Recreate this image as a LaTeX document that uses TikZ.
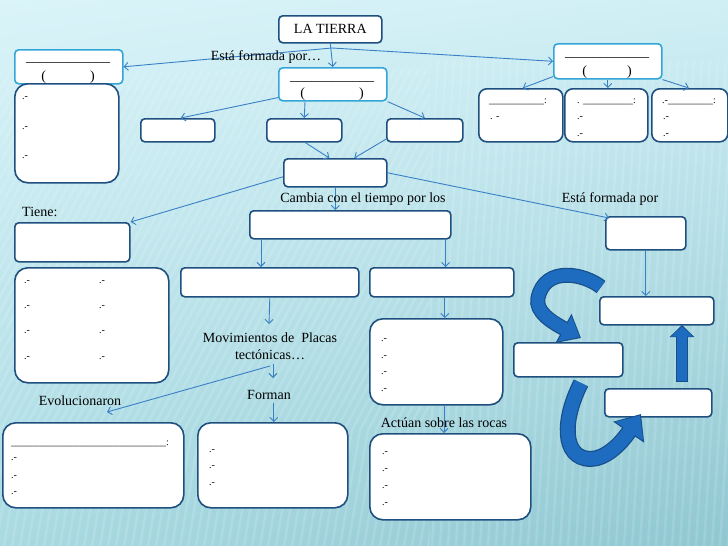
\documentclass[tikz,border=0pt]{standalone}
\usepackage{fontspec}
\setmainfont{Liberation Serif}
\usetikzlibrary{arrows.meta,calc,shadings}
\definecolor{dkb}{HTML}{1E4F7E}
\definecolor{ltb}{HTML}{33A6D8}
\definecolor{arc}{HTML}{3A80C6}
\definecolor{blkf}{HTML}{1D6CC0}
\definecolor{blkd}{HTML}{174F8A}
\definecolor{bgul}{HTML}{DAF4F9}
\definecolor{bgur}{HTML}{D0EFF5}
\definecolor{bgll}{HTML}{A9DAE2}
\definecolor{bglr}{HTML}{8FC7D1}
\begin{document}
\begin{tikzpicture}[x=1pt,y=-1pt,
  box/.style={draw=dkb, line width=1.6pt, fill=white, rounded corners=4pt, anchor=north west, inner sep=0pt},
  lbox/.style={box, draw=ltb},
  bigbox/.style={box, rounded corners=13pt},
  midbox/.style={box, rounded corners=8pt},
  arr/.style={draw=arc, line width=0.9pt, -{Straight Barb[length=4pt,width=8pt]}},
  lbl/.style={font=\fontsize{14}{17}\selectfont, inner sep=0pt},
  itm/.style={font=\fontsize{10}{11}\selectfont, inner sep=0pt, anchor=west},
  blkarrow/.style={draw=blkf, line cap=butt},
  stripe/.style={draw=white, opacity=0.13, line width=2.5pt}
]
\useasboundingbox (0,0) rectangle (728,546);
\shade[upper left=bgul, upper right=bgur, lower left=bgll, lower right=bglr] (0,0) rectangle (728,546);
% background texture
\begin{scope}
\clip (0,70) rectangle (430,430);
\foreach \x in {-240,-232,...,440} \draw[stripe] (\x,430) -- ++(200,-370);
\end{scope}
\begin{scope}
\clip (430,60) rectangle (728,546);
\foreach \x in {400,408,...,740} \draw[stripe] (\x,546) -- ++(30,-486);
\end{scope}
\begin{scope}
\clip (0,430) rectangle (430,546);
\foreach \x in {-20,-12,...,440} \draw[stripe] (\x,546) -- ++(20,-116);
\end{scope}

% top level
\node[box, minimum width=103pt, minimum height=27pt, font=\fontsize{14}{16}\selectfont] (tierra) at (278,15) {LA TIERRA};
\node[lbox, minimum width=108pt, minimum height=34pt] (lt) at (14,49) {};
\node[lbl, anchor=base] (ltu) at (68,61) {\_\_\_\_\_\_\_\_\_\_\_\_};
\node[lbl, anchor=base] (ltp) at (68,80) {(\hspace{44pt})};
\node[bigbox, minimum width=104pt, minimum height=99pt] (ll) at (14,83) {};
\foreach \yy [count=\i] in {98,128,157} \node[itm] (lla\i) at (22,\yy) {.-};

\node[lbox, minimum width=108pt, minimum height=33pt] (mb) at (278,67) {};
\node[lbl, anchor=base] (mbu) at (332,80) {\_\_\_\_\_\_\_\_\_\_\_\_};
\node[lbl, anchor=base] (mbp) at (332,97) {(\hspace{54pt})};

\node[lbox, minimum width=108pt, minimum height=35pt] (rt) at (553,43) {};
\node[lbl, anchor=base] (rtu) at (607,56) {\_\_\_\_\_\_\_\_\_\_\_\_};
\node[lbl, anchor=base] (rtp) at (607,75) {(\hspace{40pt})};

\node[box, minimum width=74pt, minimum height=23pt] (A) at (140,118) {};
\node[box, minimum width=75pt, minimum height=23pt] (B) at (266,118) {};
\node[box, minimum width=76pt, minimum height=23pt] (Cb) at (386,118) {};
\node[box, minimum width=103pt, minimum height=28pt] (cen) at (283,158) {};

\node[midbox, minimum width=84pt, minimum height=53pt] (R1) at (478,88) {};
\node[midbox, minimum width=83pt, minimum height=53pt] (R2) at (564,88) {};
\node[midbox, minimum width=76pt, minimum height=53pt] (R3) at (651,88) {};
\node[itm] (r1a) at (489,102) {\_\_\_\_\_\_\_\_\_\_\_:};
\node[itm] (r1b) at (490,118) {. -};
\node[itm] (r2a) at (577,102) {. \_\_\_\_\_\_\_\_\_\_:};
\node[itm] (r2b) at (577,118) {.-};
\node[itm] (r2c) at (577,135) {.-};
\node[itm] (r3a) at (662,102) {.-\_\_\_\_\_\_\_\_\_:};
\node[itm] (r3b) at (663,118) {.-};
\node[itm] (r3c) at (663,135) {.-};

% middle level
\node[lbl, anchor=west] (tiene) at (22,212) {Tiene:};
\node[box, minimum width=115pt, minimum height=39pt] (T) at (14,222) {};
\node[bigbox, minimum width=154pt, minimum height=115pt] (LL2) at (14,267) {};
\foreach \yy [count=\i] in {282,307,332,358} {
  \node[itm] (lbl\i) at (24,\yy) {.-};
  \node[itm] (lbr\i) at (99,\yy) {.-};
}
\node[box, minimum width=201pt, minimum height=28pt] (W) at (249,210) {};
\node[box, minimum width=178pt, minimum height=29pt] (D) at (180,267) {};
\node[box, minimum width=144pt, minimum height=29pt] (E) at (369,267) {};
\node[bigbox, minimum width=133pt, minimum height=86pt] (F) at (369,318) {};
\foreach \yy [count=\i] in {340,357,373,390} \node[itm] (fa\i) at (381,\yy) {.-};

\node[box, minimum width=80pt, minimum height=33pt] (J) at (605,216) {};
\node[box, minimum width=114pt, minimum height=28pt] (K) at (599,296) {};
\node[box, minimum width=109pt, minimum height=34pt] (L) at (513,342) {};
\node[box, minimum width=107pt, minimum height=28pt] (M) at (604,388) {};

% bottom level
\node[bigbox, minimum width=181pt, minimum height=85pt] (G) at (2,422) {};
\node[itm] (ga0) at (11,444) {\_\_\_\_\_\_\_\_\_\_\_\_\_\_\_\_\_\_\_\_\_\_\_\_\_\_\_\_\_\_\_:};
\foreach \yy [count=\i] in {459,477,493} \node[itm] (ga\i) at (11,\yy) {.-};
\node[bigbox, minimum width=150pt, minimum height=85pt] (H) at (197,422) {};
\foreach \yy [count=\i] in {451,467,484} \node[itm] (ha\i) at (209,\yy) {.-};
\node[bigbox, minimum width=161pt, minimum height=86pt] (I) at (369,433) {};
\foreach \yy [count=\i] in {453,470,487,504} \node[itm] (ia\i) at (382,\yy) {.-};

% connectors
\coordinate (split) at (332,48);
\draw[arr] (tierra.south) -- (mb.north);
\draw[arr] (split) -- (lt.east);
\draw[arr] (split) -- (rt.west);
\draw[arr] ($(mb.south west)+(0,-4)$) -- ($(A.north)+(3,0)$);
\draw[arr] ($(mb.south west)+(27,0)$) -- (B.north);
\draw[arr] (mb.south east) -- (Cb.north);
\draw[arr] ($(B.south)+(1,0)$) -- ($(cen.north)+(-6,0)$);
\draw[arr] ($(Cb.south west)+(1,-4)$) -- ($(cen.north)+(19,0)$);
\draw[arr] ($(rt.south west)+(0,-3)$) -- ($(R1.north)+(2,0)$);
\draw[arr] (rt.south) -- (rt.south |- R2.north);
\draw[arr] (rt.south east) -- ($(R3.north)+(-1,0)$);
\draw[arr] ($(cen.west)+(0,4)$) -- (T.north east);
\draw[arr] (cen.south) -- (cen.south |- W.north);
\draw[arr] (cen.east) -- ($(J.north west)+(4,2)$);
\coordinate (wd) at ($(W.south west)+(12,0)$);
\draw[arr] (wd) -- (wd |- D.north);
\coordinate (we) at ($(W.south east)+(-6,0)$);
\draw[arr] (we) -- (we |- E.north);
\coordinate (mvt) at (269,324);
\draw[arr] (D.south) -- (mvt);
\coordinate (ef) at ($(E.south)+(3,0)$);
\draw[arr] (ef) -- (ef |- F.north);
\draw[arr] (J.south) -- (J.south |- K.north);

\node[lbl, align=center] (mov) at (270,346) {Movimientos de~ Placas\\tectónicas…};
\coordinate (mvs) at (273,364);
\coordinate (fmt) at (273,378);
\coordinate (evt) at (107,412);
\draw[arr] (mvs) -- (fmt);
\draw[arr] ($(mvs)+(-3,2)$) -- (evt);
\node[lbl] (forman) at (269,395) {Forman};
\draw[arr] (forman.south -| H.north) ++(1,3) -- ($(H.north)+(1,0)$);
\node[lbl] (evol) at (80,401) {Evolucionaron};
\coordinate (fi) at ($(F.south west)+(75,0)$);
\draw[arr] (fi) -- (fi |- I.north);
\node[lbl] (actuan) at (444,423) {Actúan sobre las rocas};

\node[lbl] (formada) at (266,57) {Está formada por…};
\node[lbl] (cambia) at (363,199) {Cambia con el tiempo por los};
\node[lbl] (formada2) at (610,199) {Está formada por};

% block arrows
\coordinate (ua1) at (682,382);
\coordinate (ua2) at (682,325);
\draw[blkarrow, draw=blkd, line width=12pt, -{Triangle[length=12pt,width=24pt]}] (ua1) -- (ua2);
\draw[blkarrow, line width=10pt, -{Triangle[length=10pt,width=21pt]}] ($(ua1)+(0,-1)$) -- ($(ua2)+(0,1.5)$);

\coordinate (ta1) at (601,287);
\coordinate (ta2) at (581,338);
\draw[blkarrow, draw=blkd, line width=15pt, -{Triangle[length=20pt,width=32pt]}] (ta1) .. controls (585,274) and (545,265) .. (538,298) .. controls (535,312) and (552,322) .. (ta2);
\draw[blkarrow, line width=12.5pt, -{Triangle[length=17pt,width=28pt]}] (ta1) .. controls (585,274) and (545,265) .. (538,298) .. controls (535,312) and (552,322) .. ($(ta2)+(-1.5,-1)$);

\coordinate (ba1) at (581,383);
\coordinate (ba2) at (641,414);
\draw[blkarrow, draw=blkd, line width=16pt, -{Triangle[length=22pt,width=36pt]}] (ba1) .. controls (562,420) and (562,458) .. (590,459) .. controls (605,459) and (620,445) .. (ba2);
\draw[blkarrow, line width=13.5pt, -{Triangle[length=19pt,width=32pt]}] (ba1) .. controls (562,420) and (562,458) .. (590,459) .. controls (605,459) and (620,445) .. ($(ba2)+(-1,1.5)$);
\end{tikzpicture}
\end{document}
